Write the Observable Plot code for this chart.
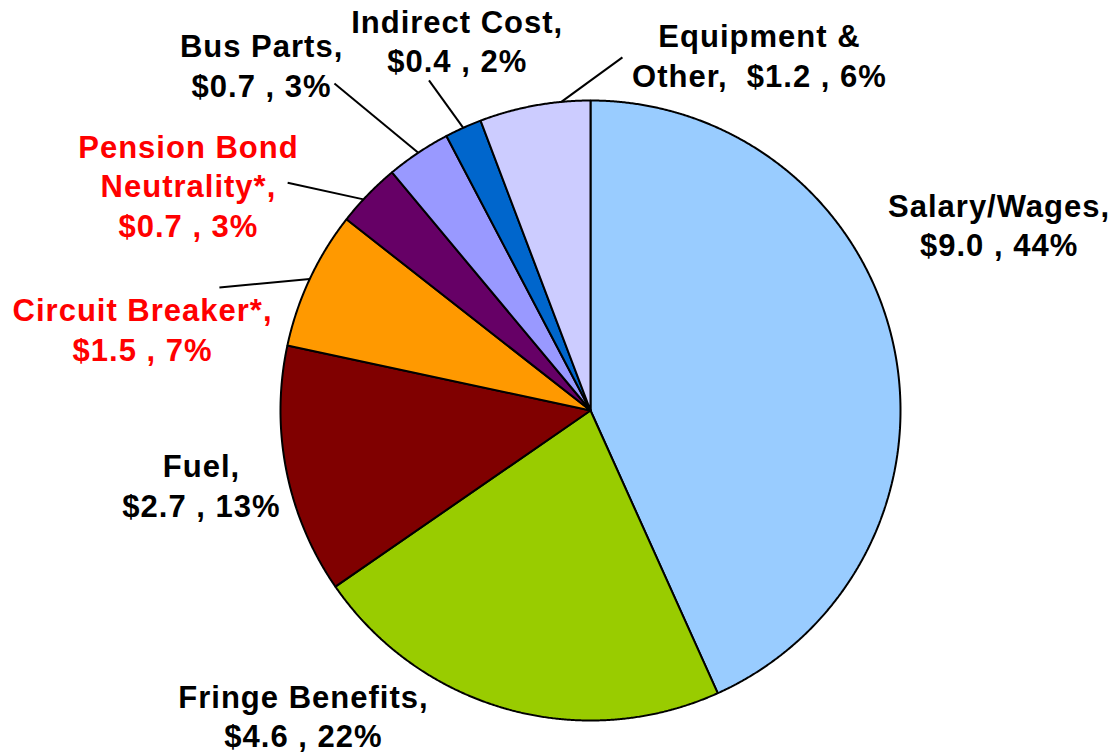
<!DOCTYPE html>
<html>
<head>
<meta charset="utf-8">
<script src="https://cdn.jsdelivr.net/npm/d3@7"></script>
<script src="https://cdn.jsdelivr.net/npm/@observablehq/plot@0.6"></script>
<style>
  html, body { margin: 0; padding: 0; background: #ffffff; }
  #chart { width: 1115px; height: 756px; }
</style>
</head>
<body>
<div id="chart"></div>
<script>
// ---- data ----
const names = ["Salary/Wages,", "Fringe Benefits,", "Fuel,", "Circuit Breaker*,", "Pension Bond\nNeutrality*,", "Bus Parts,", "Indirect Cost,", "Equipment &\nOther,"];
const values = [9.0, 4.6, 2.7, 1.5, 0.7, 0.7, 0.4, 1.2];
const percents = [44, 22, 13, 7, 3, 3, 2, 6];
const sliceColors = ["#99CCFF", "#99CC00", "#800000", "#FF9900", "#660066", "#9999FF", "#0066CC", "#CCCCFF"];
const labelColors = ["#000000", "#000000", "#000000", "#FF0000", "#FF0000", "#000000", "#000000", "#000000"];
const valueSeparators = ["\n", "\n", "\n", "\n", "\n", "\n", "\n", "  "];

// ---- layout (pie units: center 0,0, radius 1, y downward) ----
const labelX = [1.318, -0.926, -1.255, -1.445, -1.297, -1.061, -0.430, 0.545];
const labelY = [-0.602, 0.982, 0.238, -0.266, -0.729, -1.117, -1.196, -1.148];
const leaderStartX = [null, null, null, -1.197, -0.977, -0.826, -0.521, 0.103];
const leaderStartY = [null, null, null, -0.397, -0.735, -1.055, -1.065, -1.139];
const leaderT = [null, null, null, 0.5, 0.4, 0.5, 0.5, 0.74];

const CX = 590, CY = 410, R = 310;
const W = 1115, H = 756;

// ---- derived geometry ----
const total = d3.sum(values);
let cum = 0;
const slices = values.map((v, i) => {
  const a0 = cum / total * 2 * Math.PI;
  cum += v;
  const a1 = cum / total * 2 * Math.PI;
  return {i, name: names[i], a0, a1};
});

const polyPoints = [];
for (const s of slices) {
  polyPoints.push({name: s.name, x: 0, y: 0, color: sliceColors[s.i]});
  const n = Math.max(2, Math.ceil((s.a1 - s.a0) / (Math.PI / 720)));
  for (let k = 0; k <= n; k++) {
    const a = s.a0 + (s.a1 - s.a0) * k / n;
    polyPoints.push({name: s.name, x: Math.sin(a), y: -Math.cos(a), color: sliceColors[s.i]});
  }
  polyPoints.push({name: s.name, x: 0, y: 0, color: sliceColors[s.i]});
}

const leaders = slices.filter(s => leaderT[s.i] != null).map(s => {
  const a = s.a0 + (s.a1 - s.a0) * leaderT[s.i];
  return {x1: leaderStartX[s.i], y1: leaderStartY[s.i], x2: Math.sin(a), y2: -Math.cos(a)};
});

const labels = slices.map(s => ({
  x: labelX[s.i],
  y: labelY[s.i],
  text: names[s.i] + valueSeparators[s.i] + "$" + values[s.i].toFixed(1) + " , " + percents[s.i] + "%",
  color: labelColors[s.i]
}));

const chart = Plot.plot({
  width: W,
  height: H,
  margin: 0,
  style: {background: "#ffffff", fontFamily: "'Liberation Sans', Arial, sans-serif", letterSpacing: "1px"},
  x: {domain: [-1, 1], range: [CX - R, CX + R], axis: null},
  y: {domain: [-1, 1], range: [CY - R, CY + R], axis: null},
  color: {type: "identity"},
  marks: [
    Plot.line(polyPoints, {x: "x", y: "y", z: "name", fill: "color", stroke: "#000000", strokeWidth: 2, strokeLinejoin: "miter"}),
    Plot.link(leaders, {x1: "x1", y1: "y1", x2: "x2", y2: "y2", stroke: "#000000", strokeWidth: 2}),
    Plot.text(labels, {
      x: "x", y: "y", text: "text", fill: "color",
      fontSize: 31, fontWeight: "bold", lineHeight: 1.28,
      textAnchor: "middle", lineAnchor: "middle",
      fontFamily: "'Liberation Sans', Arial, sans-serif"
    })
  ]
});

document.getElementById("chart").appendChild(chart);
</script>
</body>
</html>
